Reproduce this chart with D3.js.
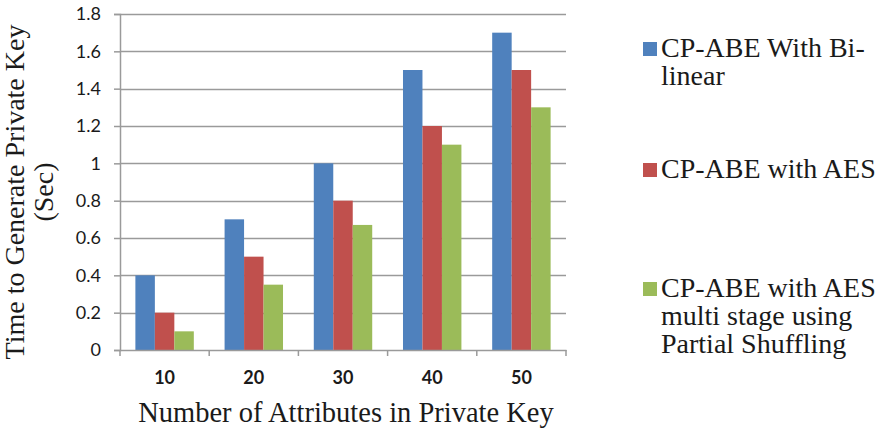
<!DOCTYPE html>
<html>
<head>
<meta charset="utf-8">
<script src="https://cdn.jsdelivr.net/npm/d3@7"></script>
<style>
  html, body { margin: 0; padding: 0; background: #fff; }
  svg { display: block; }
  .serif { font-family: "Liberation Serif", "DejaVu Serif", serif; }
  .sans { font-family: "Lato", "Open Sans", sans-serif; }
</style>
</head>
<body>
<svg id="chart" width="884" height="432"></svg>
<script>
// ---- data ----
const categories = ["10", "20", "30", "40", "50"];
const seriesNames = [
  "CP-ABE With Bi-linear",
  "CP-ABE with AES",
  "CP-ABE with AES multi stage using Partial Shuffling"
];
const bilinearValues = [0.4, 0.7, 1.0, 1.5, 1.7];
const aesValues = [0.2, 0.5, 0.8, 1.2, 1.5];
const shufflingValues = [0.1, 0.35, 0.67, 1.1, 1.3];
const yTicks = [0, 0.2, 0.4, 0.6, 0.8, 1, 1.2, 1.4, 1.6, 1.8];
const legendLines = [
  ["CP-ABE With Bi-", "linear"],
  ["CP-ABE with AES"],
  ["CP-ABE with AES", "multi stage using", "Partial Shuffling"]
];
const xTitle = "Number of Attributes in Private Key";
const yTitleLines = ["Time to Generate Private Key", "(Sec)"];

// ---- layout ----
const colors = ["#4F81BD", "#C0504D", "#9BBB59"];
const plot = { left: 120, right: 566, top: 14, bottom: 350 };
const gridColor = "#9a9a9a";

const svg = d3.select("#chart");
const seriesValues = [bilinearValues, aesValues, shufflingValues];
const table = categories.map((c, i) => ({
  cat: c,
  vals: seriesValues.map((s, j) => ({ key: j, value: s[i] }))
}));

const x = d3.scaleBand()
  .domain(categories)
  .range([plot.left, plot.right])
  .paddingInner(0.345)
  .paddingOuter(0.1725);
const xInner = d3.scaleBand()
  .domain(d3.range(seriesNames.length))
  .range([0, x.bandwidth()])
  .padding(0);
const y = d3.scaleLinear().domain([0, 1.8]).range([plot.bottom, plot.top]);

// gridlines
svg.append("g")
  .selectAll("line")
  .data(yTicks.filter(d => d > 0))
  .join("line")
  .attr("x1", plot.left).attr("x2", plot.right)
  .attr("y1", d => Math.round(y(d)) + 0.5).attr("y2", d => Math.round(y(d)) + 0.5)
  .attr("stroke", gridColor).attr("stroke-width", 1.5);

// bars
svg.append("g")
  .selectAll("g")
  .data(table)
  .join("g")
  .attr("transform", d => `translate(${x(d.cat)},0)`)
  .selectAll("rect")
  .data(d => d.vals)
  .join("rect")
  .attr("x", d => xInner(d.key))
  .attr("width", xInner.bandwidth())
  .attr("y", d => y(d.value))
  .attr("height", d => y(0) - y(d.value))
  .attr("fill", d => colors[d.key]);

// y axis
const yAxis = svg.append("g")
  .attr("transform", `translate(${plot.left},0)`)
  .call(d3.axisLeft(y).tickValues(yTicks).tickFormat(d3.format("")).tickSize(6).tickPadding(13));
yAxis.attr("font-family", null);
yAxis.select(".domain").attr("stroke", gridColor).attr("stroke-width", 1.5);
yAxis.selectAll(".tick line").attr("stroke", gridColor).attr("stroke-width", 1.5);
yAxis.selectAll(".tick text")
  .attr("class", "sans").attr("font-size", 18).attr("fill", "#1a1a1a");

// x axis (ticks at category boundaries)
const xAxis = svg.append("g")
  .attr("transform", `translate(0,${plot.bottom})`)
  .call(d3.axisBottom(x).tickSize(0).tickPadding(21));
xAxis.attr("font-family", null);
xAxis.select(".domain").attr("stroke", gridColor).attr("stroke-width", 1.5);
xAxis.selectAll(".tick text")
  .attr("class", "sans").attr("font-size", 18).attr("font-weight", "bold").attr("fill", "#1a1a1a");
const boundaries = categories.map(c => x(c) - x.step() * x.paddingInner() / 2)
  .concat([plot.right]);
svg.append("g")
  .selectAll("line")
  .data(boundaries)
  .join("line")
  .attr("x1", d => d).attr("x2", d => d)
  .attr("y1", plot.bottom).attr("y2", plot.bottom + 6)
  .attr("stroke", gridColor).attr("stroke-width", 1.5);

// axis titles
svg.append("text")
  .attr("class", "serif")
  .attr("x", (plot.left + plot.right) / 2 + 3)
  .attr("y", 422)
  .attr("text-anchor", "middle")
  .attr("font-size", 28.5).attr("fill", "#1a1a1a")
  .text(xTitle);

const yt = svg.append("text")
  .attr("class", "serif")
  .attr("transform", "translate(0,192) rotate(-90)")
  .attr("text-anchor", "middle")
  .attr("font-size", 28).attr("fill", "#1a1a1a");
yt.selectAll("tspan")
  .data(yTitleLines)
  .join("tspan")
  .attr("x", 0)
  .attr("y", (d, i) => 24 + i * 29)
  .text(d => d);

// legend
const legendTops = [57, 178, 297];
const legend = svg.append("g");
legendLines.forEach((lines, i) => {
  legend.append("rect")
    .attr("x", 643).attr("y", legendTops[i] - 15)
    .attr("width", 14).attr("height", 14)
    .attr("fill", colors[i]);
  legend.append("text")
    .attr("class", "serif")
    .attr("font-size", 28).attr("fill", "#1a1a1a")
    .selectAll("tspan")
    .data(lines)
    .join("tspan")
    .attr("x", 661)
    .attr("y", (d, k) => legendTops[i] + k * 28)
    .text(d => d);
});
</script>
</body>
</html>
